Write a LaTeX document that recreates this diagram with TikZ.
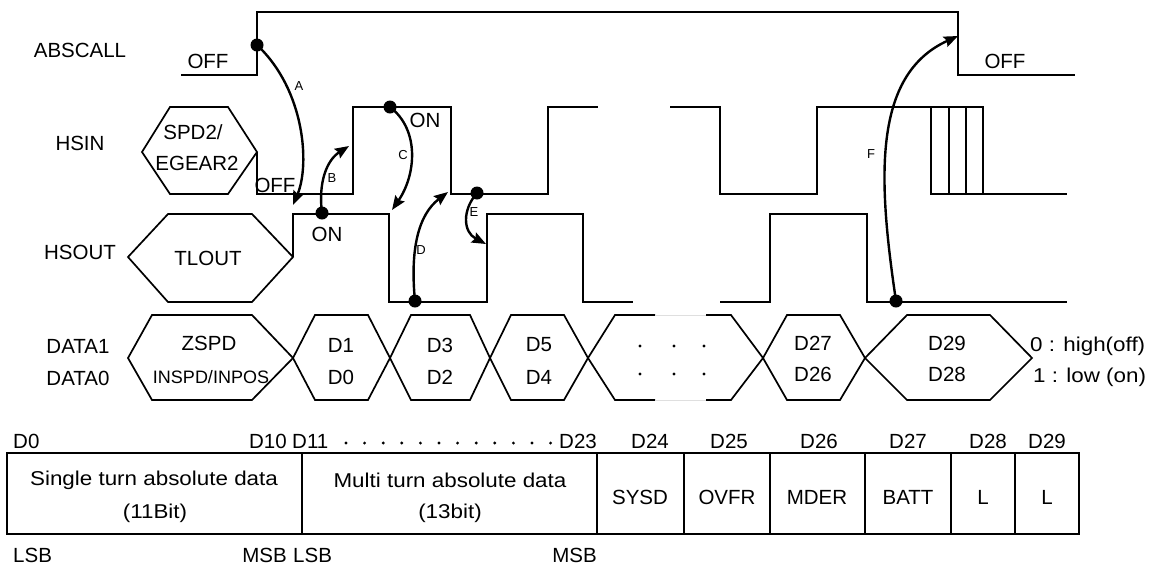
\documentclass[tikz,border=0pt]{standalone}
\usepackage{fontspec}
\setmainfont{Liberation Sans}
\newfontfamily\widefont{Liberation Sans}[FakeStretch=1.12]
\usetikzlibrary{arrows.meta}

\begin{document}
\begin{tikzpicture}[x=1pt,y=-1pt,>={Stealth[length=14pt,width=11pt,inset=2pt]},
  sig/.style={line width=1.7pt,line join=miter},
  cue/.style={line width=2.4pt,->},
  txt/.style={inner sep=0pt,font=\fontsize{20.5}{24}\selectfont},
  wtxt/.style={inner sep=0pt,font=\widefont\fontsize{20}{24}\selectfont},
  cuelbl/.style={inner sep=0pt,font=\fontsize{13}{15}\selectfont}]
\useasboundingbox (0,0) rectangle (1156,566);

% signal names
\node[txt] (nabs) at (80,50) {ABSCALL};
\node[txt] (nhsin) at (80,143) {HSIN};
\node[txt] (nhsout) at (80,252) {HSOUT};
\node[txt] (nd1) at (78,346) {DATA1};
\node[txt] (nd0) at (78,378) {DATA0};

% ABSCALL
\draw[sig] (181,75) -- (257,75) -- (257,12) -- (958,12) -- (958,75) -- (1075,75);
\node[txt] (offa) at (208,61) {OFF};
\node[txt] (offb) at (1005,61) {OFF};

% HSIN
\draw[sig] (142,152) -- (170,107) -- (228,107) -- (257,152) -- (228,194) -- (170,194) -- cycle;
\node[txt] (spd) at (193,132) {SPD2/};
\node[txt] (egear) at (197,163) {EGEAR2};
\draw[sig] (257,152) -- (257,194) -- (353,194) -- (353,107) -- (451,107) -- (451,194)
  -- (548,194) -- (548,107) -- (598,107);
\draw[sig] (670,107) -- (720,107) -- (720,194) -- (817,194) -- (817,107) -- (983,107) -- (983,194);
\draw[sig] (931,107) -- (931,194) -- (1067,194);
\draw[sig] (949,107) -- (949,194);
\draw[sig] (966,107) -- (966,194);
\node[txt] (offc) at (275,185) {OFF};
\node[txt] (onc) at (425,120) {ON};

% HSOUT
\draw[sig] (128,257) -- (168,214) -- (252,214) -- (293,257) -- (252,302) -- (168,302) -- cycle;
\node[txt] (tlout) at (208,258) {TLOUT};
\draw[sig] (293,257) -- (293,214) -- (389,214) -- (389,302) -- (487,302) -- (487,214)
  -- (583,214) -- (583,302) -- (633,302);
\draw[sig] (720,302) -- (770,302) -- (770,214) -- (867,214) -- (867,302) -- (1067,302);
\node[txt] (ond) at (327,234) {ON};

% DATA1 / DATA0
\draw[sig] (128,358) -- (152,315) -- (252,315) -- (293,358) -- (252,400) -- (152,400) -- cycle;
\draw[sig] (293,358) -- (315,315) -- (368,315) -- (390,358) -- (368,400) -- (315,400) -- cycle;
\draw[sig] (390,358) -- (411,315) -- (470,315) -- (490,358) -- (470,400) -- (411,400) -- cycle;
\draw[sig] (490,358) -- (511,315) -- (564,315) -- (588,358) -- (564,400) -- (511,400) -- cycle;
\draw[sig] (655,315) -- (615,315) -- (588,358) -- (615,400) -- (655,400);
\draw[sig] (706,315) -- (731,315) -- (763,358) -- (731,400) -- (706,400);
\draw[gray!25,line width=1pt] (655,315) -- (706,315) (655,400) -- (706,400);
\draw[sig] (763,358) -- (787,315) -- (840,315) -- (865,358) -- (840,400) -- (787,400) -- cycle;
\draw[sig] (865,358) -- (907,315) -- (990,315) -- (1032,358) -- (990,400) -- (907,400) -- cycle;
\node[txt] (zspd) at (209,343) {ZSPD};
\node[txt,font=\fontsize{18}{22}\selectfont] (inspd) at (211,377) {INSPD/INPOS};
\node[txt] (b1) at (341,345) {D1};
\node[txt] (b0) at (341,377) {D0};
\node[txt] (b3) at (440,345) {D3};
\node[txt] (b2) at (440,377) {D2};
\node[txt] (b5) at (539,345) {D5};
\node[txt] (b4) at (539,377) {D4};
\foreach \x in {640,674,704} {
  \fill (\x,346) circle (1.7);
  \fill (\x,374) circle (1.7);
}
\node[txt] (b27) at (813,343) {D27};
\node[txt] (b26) at (813,374) {D26};
\node[txt] (b29) at (947,343) {D29};
\node[txt] (b28) at (947,374) {D28};
\node[wtxt,anchor=west] (hioff) at (1030,346) {0 : high(off)};
\node[wtxt,anchor=west] (loon) at (1033,377) {1 : low (on)};

% connectors A to F
\coordinate (dA) at (257,45);
\coordinate (tA) at (293,205);
\coordinate (dB) at (322,213);
\coordinate (tB) at (349,146);
\coordinate (dC) at (390,107);
\coordinate (tC) at (392,210);
\coordinate (dD) at (415,301);
\coordinate (tD) at (448,192);
\coordinate (dE) at (477,193);
\coordinate (tE) at (486,244);
\coordinate (dF) at (896,301);
\coordinate (tF) at (958,36);
\draw[cue] (dA) .. controls (305,90) and (310,165) .. (tA);
\draw[cue] (dB) .. controls (318,182) and (327,160) .. (tB);
\draw[cue] (dC) .. controls (420,130) and (416,175) .. (tC);
\draw[cue] (dD) .. controls (410,250) and (418,215) .. (tD);
\draw[cue] (dE) .. controls (462,210) and (463,232) .. (tE);
\draw[cue] (dF) .. controls (878,180) and (872,75) .. (tF);
\foreach \p in {dA,dB,dC,dD,dE,dF} \fill (\p) circle (6.5);
\node[cuelbl] (la) at (299,86) {A};
\node[cuelbl] (lb) at (332,178) {B};
\node[cuelbl] (lc) at (403,155) {C};
\node[cuelbl] (ld) at (421,250) {D};
\node[cuelbl] (le) at (474,212) {E};
\node[cuelbl] (lf) at (871,154) {F};

% data frame
\draw[line width=2.4pt] (7,453) rectangle (1079,534);
\foreach \x in {302,597,684,770,865,951,1015}
  \draw[line width=2pt] (\x,453) -- (\x,534);
\node[wtxt] (single) at (154,480) {Single turn absolute data};
\node[wtxt] (sbits) at (155,513) {(11Bit)};
\node[wtxt] (multi) at (450,480) {Multi turn absolute data};
\node[wtxt] (mbits) at (450,513) {(13bit)};
\node[txt] (sysd) at (640,497) {SYSD};
\node[txt] (ovfr) at (727,497) {OVFR};
\node[txt] (mder) at (817,497) {MDER};
\node[txt] (batt) at (908,497) {BATT};
\node[txt] (lo1) at (983,497) {L};
\node[txt] (lo2) at (1047,497) {L};
\node[txt,anchor=west] (f0) at (13,441) {D0};
\node[txt,anchor=east] (f10) at (287,441) {D10};
\node[txt,anchor=west] (f11) at (292,441) {D11};
\foreach \i in {0,...,11} \fill (346+\i*18.6,443) circle (1.6);
\node[txt,anchor=east] (f23) at (597,441) {D23};
\node[txt] (f24) at (650,441) {D24};
\node[txt] (f25) at (729,441) {D25};
\node[txt] (f26) at (819,441) {D26};
\node[txt] (f27) at (908,441) {D27};
\node[txt] (f28) at (988,441) {D28};
\node[txt] (f29) at (1047,441) {D29};
\node[txt,anchor=west] (lsba) at (13,555) {LSB};
\node[txt,anchor=east] (msba) at (287,555) {MSB};
\node[txt,anchor=west] (lsbb) at (293,555) {LSB};
\node[txt,anchor=east] (msbb) at (597,555) {MSB};
\end{tikzpicture}
\end{document}
